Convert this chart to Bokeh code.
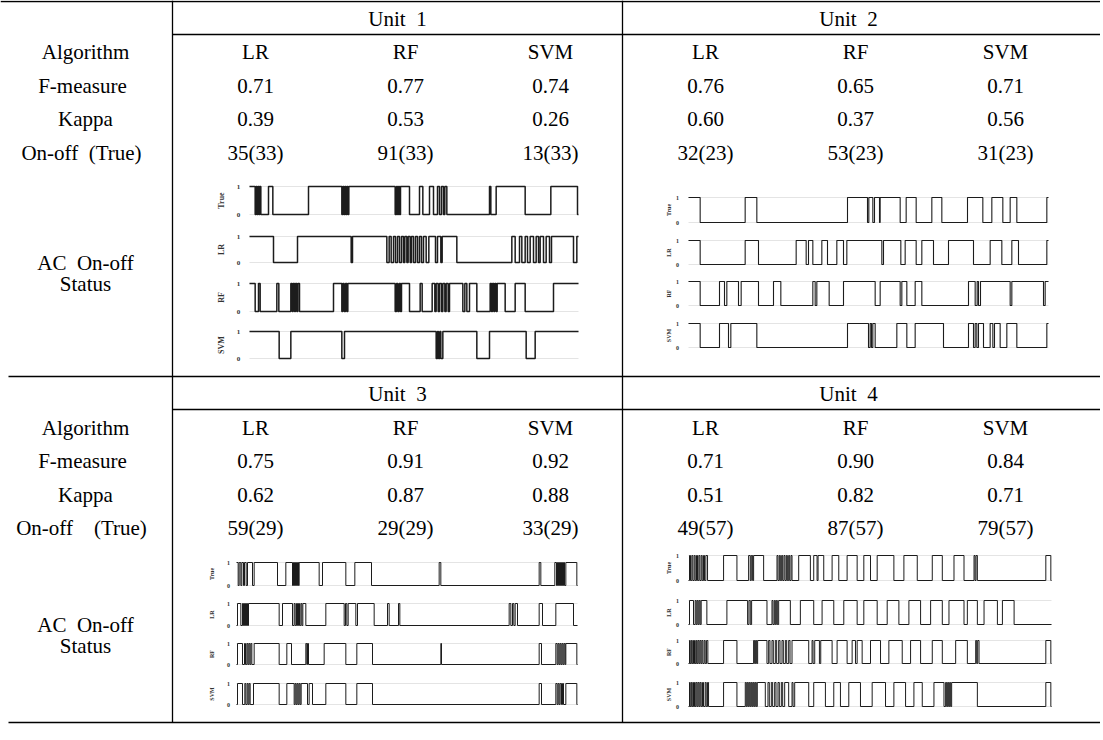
import math
from bokeh.plotting import figure
from bokeh.models import Range1d
from bokeh.core.properties import value
from bokeh.embed import file_html
from bokeh.resources import INLINE

# ---------------- data ----------------
units = ["Unit\u00a0\u00a01", "Unit\u00a0\u00a02", "Unit\u00a0\u00a03", "Unit\u00a0\u00a04"]
algorithms = ["LR", "RF", "SVM"]
row_labels_top = ["Algorithm", "F-measure", "Kappa", "On-off\u00a0\u00a0(True)"]
row_labels_bottom = ["Algorithm", "F-measure", "Kappa", "On-off\u00a0\u00a0\u00a0\u00a0(True)"]
status_label = ["AC\u00a0\u00a0On-off", "Status"]
series_names = ["True", "LR", "RF", "SVM"]

f_measure_u1 = [0.71, 0.77, 0.74]
f_measure_u2 = [0.76, 0.65, 0.71]
f_measure_u3 = [0.75, 0.91, 0.92]
f_measure_u4 = [0.71, 0.90, 0.84]

kappa_u1 = [0.39, 0.53, 0.26]
kappa_u2 = [0.60, 0.37, 0.56]
kappa_u3 = [0.62, 0.87, 0.88]
kappa_u4 = [0.51, 0.82, 0.71]

onoff_u1 = [35, 91, 13]
onoff_u2 = [32, 53, 31]
onoff_u3 = [59, 29, 33]
onoff_u4 = [49, 87, 79]
onoff_true = [33, 23, 29, 57]

# observation length (time steps) per unit
duration = [987, 1080, 1023, 1087]

# ON intervals (start, end) in time steps
u1_true = [(0, 17), (20, 23), (26, 29), (31, 34), (57, 70), (177, 277), (280, 283), (286, 289),
           (292, 295), (298, 437), (441, 444), (447, 450), (453, 480), (510, 520), (540, 552),
           (564, 570), (576, 582), (586, 592), (720, 724), (740, 827), (904, 984)]
u1_lr_off = [(72, 144), (305, 309), (412, 419), (425, 432), (438, 444), (450, 456), (462, 466),
             (472, 476), (482, 486), (492, 498), (504, 510), (516, 522), (530, 538), (558, 564),
             (574, 578), (622, 787), (797, 810), (817, 827), (834, 842), (852, 860), (867, 872),
             (882, 890), (900, 906), (972, 982)]
u1_rf = [(0, 17), (27, 32), (82, 88), (124, 128), (131, 135), (138, 142), (145, 150), (252, 277),
         (280, 284), (288, 292), (295, 437), (441, 445), (449, 453), (456, 480), (512, 518),
         (548, 556), (560, 566), (570, 576), (580, 586), (590, 596), (600, 640), (646, 652),
         (660, 682), (722, 726), (729, 733), (736, 740), (743, 767), (797, 827), (912, 987)]
u1_svm_off = [(89, 124), (277, 285), (560, 564), (567, 571), (574, 580), (682, 720), (830, 857)]

u2_true = [(0, 35), (170, 205), (477, 537), (541, 553), (558, 573), (575, 635), (653, 683),
           (730, 760), (837, 883), (910, 943), (965, 985), (1075, 1080)]
u2_lr = [(0, 35), (170, 210), (323, 353), (360, 373), (400, 417), (445, 465), (475, 580),
         (585, 637), (650, 683), (700, 735), (780, 855), (905, 940), (970, 990), (1075, 1080)]
u2_rf = [(0, 35), (93, 108), (115, 150), (158, 210), (255, 277), (373, 380), (385, 422),
         (465, 560), (575, 635), (640, 655), (680, 700), (840, 860), (866, 870), (876, 965),
         (970, 1065), (1070, 1080)]
u2_svm_off = [(35, 93), (120, 127), (205, 477), (540, 545), (549, 553), (560, 625), (655, 680),
              (765, 840), (855, 860), (865, 870), (885, 905), (913, 918), (935, 955), (985, 1075)]

u3_true = [(0, 5), (8, 13), (16, 21), (24, 29), (33, 48), (53, 123), (148, 168), (171, 174),
           (177, 180), (183, 186), (188, 248), (258, 328), (355, 405), (608, 613), (908, 913),
           (955, 960), (963, 966), (969, 972), (975, 978), (981, 984), (988, 1021)]
u3_lr = [(3, 13), (18, 21), (24, 27), (30, 33), (36, 128), (138, 168), (173, 176), (180, 183),
         (186, 189), (193, 196), (199, 208), (268, 323), (327, 331), (335, 358), (363, 413),
         (453, 458), (486, 490), (818, 823), (828, 832), (836, 843), (908, 918), (958, 1011)]
u3_rf = [(3, 18), (24, 27), (31, 34), (37, 40), (43, 46), (53, 128), (151, 165), (208, 211),
         (213, 216), (263, 328), (361, 408), (613, 615), (908, 915), (958, 962), (965, 968),
         (971, 974), (977, 980), (983, 986), (988, 1021)]
u3_svm = [(3, 18), (25, 28), (32, 35), (38, 41), (51, 128), (151, 173), (176, 179), (182, 185),
          (188, 191), (194, 213), (218, 228), (268, 328), (361, 408), (908, 915), (958, 962),
          (965, 968), (971, 975), (978, 981), (988, 1021)]

u4_true = [(3, 6), (10, 13), (17, 20), (24, 27), (31, 34), (38, 41), (45, 48), (52, 57), (105, 145),
           (180, 185), (188, 192), (195, 225), (265, 268), (272, 275), (279, 282), (286, 289),
           (293, 296), (300, 303), (307, 310), (330, 365), (375, 385), (388, 405), (430, 450),
           (475, 505), (525, 545), (565, 615), (645, 685), (730, 760), (795, 825), (855, 858),
           (861, 865), (1070, 1085)]
u4_lr = [(3, 15), (20, 23), (26, 29), (32, 35), (38, 55), (115, 177), (181, 185), (189, 235),
         (250, 253), (257, 260), (263, 266), (270, 305), (335, 375), (400, 435), (465, 505),
         (525, 565), (595, 630), (660, 695), (725, 760), (780, 825), (835, 865), (885, 925),
         (940, 975)]
u4_rf = [(3, 5), (8, 10), (13, 15), (18, 20), (23, 25), (28, 31), (34, 37), (40, 43), (47, 50),
         (54, 58), (105, 145), (195, 198), (201, 204), (207, 235), (240, 244), (250, 254),
         (260, 264), (270, 274), (280, 284), (290, 294), (300, 304), (310, 360), (370, 373),
         (378, 392), (396, 430), (445, 475), (490, 500), (505, 520), (545, 575), (600, 640),
         (665, 695), (730, 760), (800, 835), (860, 863), (866, 870), (1070, 1085)]
u4_svm = [(3, 5), (8, 10), (13, 15), (18, 20), (23, 26), (29, 32), (35, 38), (42, 45), (50, 53),
          (57, 60), (105, 145), (170, 173), (176, 179), (182, 185), (188, 191), (194, 197),
          (200, 203), (206, 230), (238, 242), (248, 252), (258, 262), (268, 272), (278, 282),
          (288, 300), (310, 313), (318, 360), (375, 410), (435, 455), (480, 515), (550, 590),
          (615, 650), (675, 700), (735, 765), (770, 773), (776, 779), (782, 785), (788, 865),
          (1070, 1085)]


def invert(off, T):
    on, cur = [], 0
    for s, e in off:
        if s > cur:
            on.append((cur, s))
        cur = e
    if cur < T:
        on.append((cur, T))
    return on


metrics = [
    (f_measure_u1, kappa_u1, onoff_u1),
    (f_measure_u2, kappa_u2, onoff_u2),
    (f_measure_u3, kappa_u3, onoff_u3),
    (f_measure_u4, kappa_u4, onoff_u4),
]
series = [
    [u1_true, invert(u1_lr_off, duration[0]), u1_rf, invert(u1_svm_off, duration[0])],
    [u2_true, u2_lr, u2_rf, invert(u2_svm_off, duration[1])],
    [u3_true, u3_lr, u3_rf, u3_svm],
    [u4_true, u4_lr, u4_rf, u4_svm],
]

# ---------------- layout (page pixel coordinates) ----------------
FW, FH = 1100, 736
OX, OY = 0, 0
FONT = value("Liberation Serif")
FS = "21px"

p = figure(width=FW, height=FH, x_range=Range1d(OX, OX + FW), y_range=Range1d(OY + FH, OY),
           output_backend="svg", toolbar_location=None, min_border=0,
           x_axis_location=None, y_axis_location=None)
p.grid.visible = False
p.outline_line_color = None
p.background_fill_color = "white"

# table rules
h_rules = [(1, 0, 1100), (34, 172, 1100), (376, 8, 1100), (409, 172, 1100), (722, 8, 1100)]
for y, xa, xb in h_rules:
    p.line([xa, xb], [y, y], line_color="black", line_width=1.3)
for x in [172, 622]:
    p.line([x, x], [0, 722], line_color="black", line_width=1.3)

unit_cx = [397, 848, 397, 848]
unit_cy = [18, 18, 393, 393]
col_x = [[255, 405, 550], [705, 855, 1005], [255, 405, 550], [705, 855, 1005]]
row_y = [[51, 85, 118, 152], [51, 85, 118, 152], [427, 460, 494, 527], [427, 460, 494, 527]]

txt = dict(text_font=FONT, text_font_size=FS, text_align="center", text_baseline="middle",
           text_color="black")

p.text(x=unit_cx, y=unit_cy, text=units, **txt)

left_x = [85, 82, 85, 81]
p.text(x=left_x, y=row_y[0], text=row_labels_top, **txt)
p.text(x=left_x, y=row_y[2], text=row_labels_bottom, **txt)
p.text(x=[85, 85], y=[262, 283], text=status_label, **txt)
p.text(x=[85, 85], y=[624, 645], text=status_label, **txt)

for u in range(4):
    fm, kp, oo = metrics[u]
    xs, ys, ts = [], [], []
    for j in range(3):
        cx = col_x[u][j]
        xs += [cx] * 4
        ys += row_y[u]
        ts += [algorithms[j], f"{fm[j]:.2f}", f"{kp[j]:.2f}", f"{oo[j]}({onoff_true[u]})"]
    p.text(x=xs, y=ys, text=ts, **txt)

# status mini-panels
panels = [
    dict(x0=249, x1=578, rows=[(186, 214), (236, 262), (283, 311), (331, 358)], tdx=-11, ldx=-28, lfs="8px", tfs="7px", lw=1.5),
    dict(x0=688, x1=1048, rows=[(197, 222), (240, 264), (281, 305), (323, 347)], tdx=-11, ldx=-20, lfs="6px", tfs="6px", lw=1.1),
    dict(x0=236, x1=577, rows=[(562, 585), (603, 625), (643, 664), (683, 704)], tdx=-8, ldx=-25, lfs="6px", tfs="6px", lw=1.0),
    dict(x0=688, x1=1051, rows=[(555, 580), (600, 624), (640, 663), (682, 706)], tdx=-11, ldx=-20, lfs="6px", tfs="6px", lw=1.0),
]


def step_xy(on, T):
    xs = [0]
    ys = [1 if on and on[0][0] <= 0 else 0]
    for s, e in on:
        if s > 0:
            xs += [s, s]
            ys += [0, 1]
        if e < T:
            xs += [e, e]
            ys += [1, 0]
        else:
            xs.append(T)
            ys.append(1)
    if xs[-1] < T:
        xs.append(T)
        ys.append(ys[-1])
    return xs, ys


for u in range(4):
    pn = panels[u]
    T = duration[u]
    k = T / (pn["x1"] - pn["x0"])
    xname = f"u{u}x"
    p.extra_x_ranges[xname] = Range1d((OX - pn["x0"]) * k, (OX + FW - pn["x0"]) * k)
    for r, (py1, py0) in enumerate(pn["rows"]):
        ky = 1.0 / (py0 - py1)
        yname = f"u{u}r{r}"
        p.extra_y_ranges[yname] = Range1d((py0 - (OY + FH)) * ky, (py0 - OY) * ky)
        rr = dict(x_range_name=xname, y_range_name=yname)
        # faint grid
        p.multi_line(xs=[[0, T], [0, T]], ys=[[0, 0], [1, 1]], line_color="#e4e4e4",
                     line_width=1, **rr)
        sx, sy = step_xy(series[u][r], T)
        p.line(sx, sy, line_color="#1c1c1c", line_width=pn["lw"], **rr)
        p.text(x=[0, 0], y=[1, 0], text=["1", "0"], x_offset=pn["tdx"], text_font=FONT,
               text_font_size=pn["tfs"], text_font_style="bold", text_align="center",
               text_baseline="middle", text_color="#333333", **rr)
        p.text(x=[0], y=[0.5], text=[series_names[r]], angle=math.pi / 2, x_offset=pn["ldx"],
               text_font=FONT, text_font_size=pn["lfs"], text_font_style="bold",
               text_align="center", text_baseline="middle", text_color="#333333", **rr)

open("out.html", "w").write(file_html(p, INLINE))
